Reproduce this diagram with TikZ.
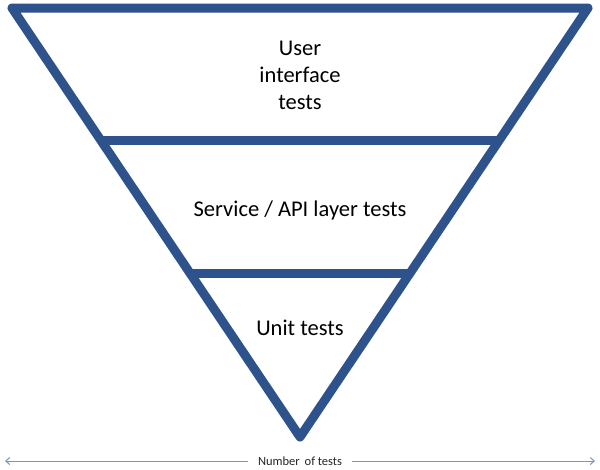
\documentclass[tikz,border=0pt]{standalone}
\usepackage{fontspec}
\setmainfont{Carlito}
\usetikzlibrary{arrows.meta}
\definecolor{pyr}{RGB}{46,82,140}
\definecolor{axis}{RGB}{130,146,195}
\begin{document}
\begin{tikzpicture}[x=1pt,y=-1pt,
  edge/.style={draw=pyr,line width=9pt,line join=round},
  lbl/.style={font=\fontsize{22.5}{27}\selectfont,align=center,text=black},
  axlbl/.style={font=\fontsize{12.5}{14}\selectfont,fill=white,inner xsep=10pt,text=black!85}]
\useasboundingbox (0,0) rectangle (600,469);
\coordinate (tl) at (12,8);
\coordinate (tr) at (588,8);
\coordinate (ap) at (300,437);
\coordinate (l1) at (102.6,140);
\coordinate (r1) at (497.4,140);
\coordinate (l2) at (192,273);
\coordinate (r2) at (408,273);
\draw[edge] (tl) -- (tr) -- (ap) -- cycle;
\draw[edge] (l1) -- (r1);
\draw[edge] (l2) -- (r2);
\node[lbl] (ui) at (300,75) {User\\interface\\tests};
\node[lbl] (svc) at (300,210) {Service / API layer tests};
\node[lbl] (unit) at (300,328) {Unit tests};
\coordinate (al) at (5,461);
\coordinate (ar) at (595,461);
\draw[axis,line width=1pt,{Straight Barb[length=4pt,width=7pt]}-{Straight Barb[length=4pt,width=7pt]}] (al) -- (ar);
\node[axlbl] (num) at (300,461) {Number\, of tests};
\end{tikzpicture}
\end{document}
